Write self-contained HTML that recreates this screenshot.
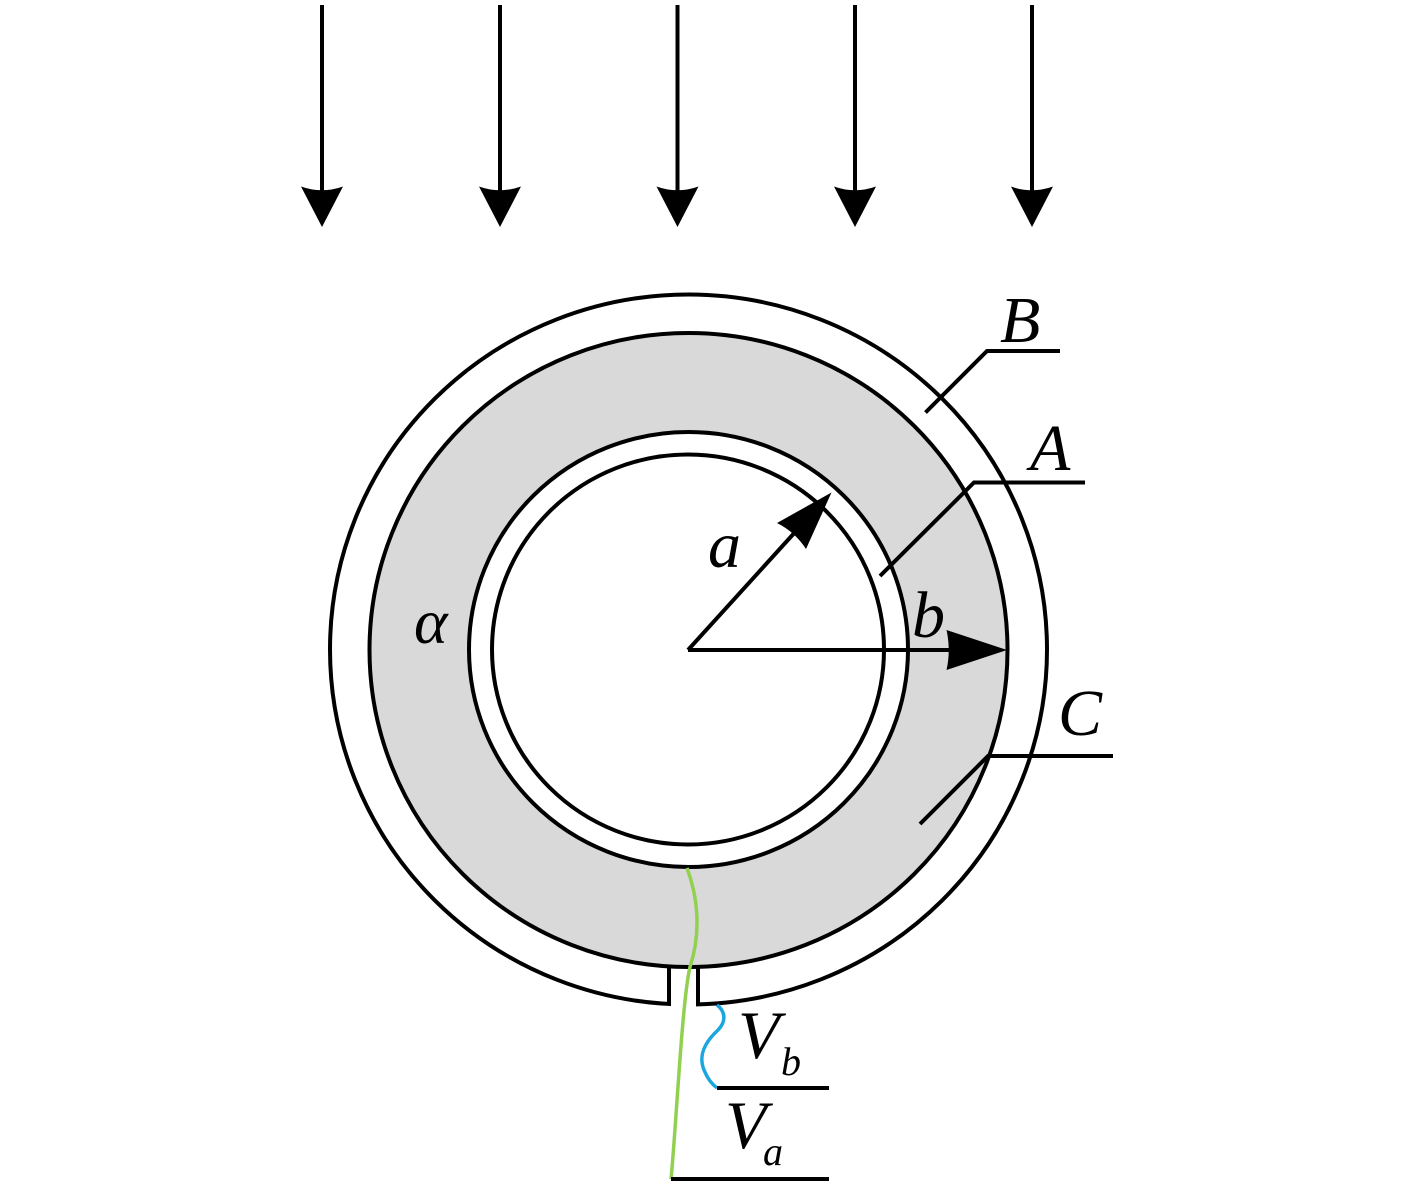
<!DOCTYPE html>
<html>
<head>
<meta charset="utf-8">
<style>
html,body{margin:0;padding:0;background:#fff;}
svg{display:block;}
text{font-family:"Liberation Serif","DejaVu Serif",serif;font-style:italic;fill:#000;}
</style>
</head>
<body>
<svg width="1417" height="1188" viewBox="0 0 1417 1188" xmlns="http://www.w3.org/2000/svg">
<rect x="0" y="0" width="1417" height="1188" fill="#fff"/>

<!-- top arrows -->
<g stroke="#000" stroke-width="4" fill="none">
<line x1="322" y1="5" x2="322" y2="195"/>
<line x1="500" y1="5" x2="500" y2="195"/>
<line x1="677.5" y1="5" x2="677.5" y2="195"/>
<line x1="855" y1="5" x2="855" y2="195"/>
<line x1="1032" y1="5" x2="1032" y2="195"/>
</g>
<g fill="#000">
<path d="M301,186.5 Q322,194 343,186.5 L322,227 Z"/>
<path d="M479,186.5 Q500,194 521,186.5 L500,227 Z"/>
<path d="M656.5,186.5 Q677.5,194 698.5,186.5 L677.5,227 Z"/>
<path d="M834,186.5 Q855,194 876,186.5 L855,227 Z"/>
<path d="M1011,186.5 Q1032,194 1053,186.5 L1032,227 Z"/>
</g>

<!-- outer shell B -->
<ellipse cx="688.5" cy="649.5" rx="358.5" ry="355" fill="#fff" stroke="#000" stroke-width="4"/>
<!-- slot gap -->
<rect x="671" y="985" width="25" height="30" fill="#fff"/>

<!-- gray annulus -->
<ellipse cx="688.5" cy="650" rx="319" ry="317" fill="#d9d9d9" stroke="#000" stroke-width="4"/>
<ellipse cx="688.5" cy="649.5" rx="219.5" ry="217.5" fill="#fff" stroke="#000" stroke-width="4"/>
<ellipse cx="688" cy="649.5" rx="196" ry="195" fill="#fff" stroke="#000" stroke-width="4"/>

<path d="M669,1005.5 L669,967 M698,967 L698,1005.5" fill="none" stroke="#000" stroke-width="4"/>

<!-- wires -->
<path d="M687,868 C697,895 702,930 690,967 C682,1000 676,1130 671,1179" fill="none" stroke="#92d050" stroke-width="3.5"/>
<path d="M717,1005 C726,1012 726,1022 718,1030 C705,1042 698,1055 704,1070 C708,1080 713,1085 717,1088" fill="none" stroke="#1aa7e0" stroke-width="3.5"/>
<line x1="717" y1="1088" x2="829" y2="1088" stroke="#000" stroke-width="4"/>
<line x1="671" y1="1179" x2="829" y2="1179" stroke="#000" stroke-width="4"/>

<!-- leaders -->
<g stroke="#000" stroke-width="4" fill="none">
<polyline points="925.5,412.5 987,351 1060,351"/>
<polyline points="880,576 974,482.5 1085,482.5"/>
<polyline points="920,824 988,756 1113,756"/>
</g>

<!-- radius arrows -->
<g stroke="#000" stroke-width="4" fill="none">
<line x1="688" y1="650" x2="797" y2="530"/>
<line x1="688" y1="650" x2="955" y2="650"/>
</g>
<g fill="#000">
<path d="M831.5,492.5 L777,523 Q795,532 806,549 Z"/>
<path d="M1007,650 L946.5,630 Q951,650 946.5,670 Z"/>
</g>

<!-- labels -->
<text x="1000" y="342" font-size="66">B</text>
<text x="1030" y="470" font-size="66">A</text>
<text x="1058" y="735" font-size="66">C</text>
<text x="708" y="567" font-size="66">a</text>
<text x="912" y="637" font-size="66">b</text>
<text x="414" y="643" font-size="64">α</text>
<text x="738" y="1058" font-size="68">V</text>
<text x="781" y="1075" font-size="40">b</text>
<text x="725" y="1148" font-size="68">V</text>
<text x="763" y="1165" font-size="40">a</text>
</svg>
</body>
</html>
